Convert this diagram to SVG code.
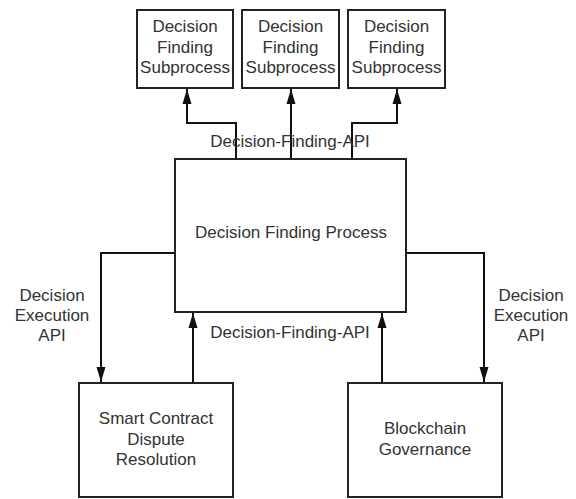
<svg xmlns="http://www.w3.org/2000/svg" width="576" height="499" viewBox="0 0 576 499">
<style>
.box{fill:#fff;stroke:#222;stroke-width:2}
.t{font-family:"Liberation Sans",Arial,sans-serif;font-size:17px;fill:#333;text-anchor:middle}
.c{fill:none;stroke:#111;stroke-width:2;marker-end:url(#ah)}
.n{fill:none;stroke:#111;stroke-width:2}
</style>
<defs>
<marker id="ah" markerUnits="userSpaceOnUse" markerWidth="16" markerHeight="10" refX="15" refY="5" orient="auto">
<path d="M0,0.5 L15,5 L0,9.5 z" fill="#111"/>
</marker>
</defs>
<rect width="576" height="499" fill="#fff"/>
<g id="connectors">
<path class="c" d="M236,159 V123 H187 V89"/>
<path class="c" d="M291,159 V89"/>
<path class="c" d="M352,159 V123 H397 V89"/>
<path class="c" d="M175,253 H101 V382"/>
<path class="c" d="M406,253 H484 V382"/>
<path class="c" d="M193,383 V313"/>
<path class="c" d="M382,383 V313"/>
<text class="t" x="290" y="147">Decision-Finding-API</text>
<text class="t" x="290" y="338">Decision-Finding-API</text>
<text class="t" x="52" y="301">Decision</text>
<text class="t" x="52" y="321">Execution</text>
<text class="t" x="52" y="341">API</text>
<text class="t" x="531" y="301">Decision</text>
<text class="t" x="531" y="321">Execution</text>
<text class="t" x="531" y="341">API</text>
</g>
<g id="sub1">
<rect class="box" x="137" y="10" width="96" height="78"/>
<text class="t" x="185" y="32">Decision</text>
<text class="t" x="185" y="53">Finding</text>
<text class="t" x="185" y="73">Subprocess</text>
</g>
<g id="sub2">
<rect class="box" x="242" y="10" width="97" height="78"/>
<text class="t" x="290.5" y="32">Decision</text>
<text class="t" x="290.5" y="53">Finding</text>
<text class="t" x="290.5" y="73">Subprocess</text>
</g>
<g id="sub3">
<rect class="box" x="348" y="10" width="97" height="78"/>
<text class="t" x="396.5" y="32">Decision</text>
<text class="t" x="396.5" y="53">Finding</text>
<text class="t" x="396.5" y="73">Subprocess</text>
</g>
<g id="main">
<rect class="box" x="175" y="159" width="231" height="153"/>
<text class="t" x="291" y="238">Decision Finding Process</text>
</g>
<g id="smart">
<rect class="box" x="79" y="383" width="154" height="114"/>
<text class="t" x="156" y="424">Smart Contract</text>
<text class="t" x="156" y="445">Dispute</text>
<text class="t" x="156" y="465">Resolution</text>
</g>
<g id="gov">
<rect class="box" x="348" y="383" width="154" height="114"/>
<text class="t" x="425" y="434">Blockchain</text>
<text class="t" x="425" y="455">Governance</text>
</g>
</svg>
